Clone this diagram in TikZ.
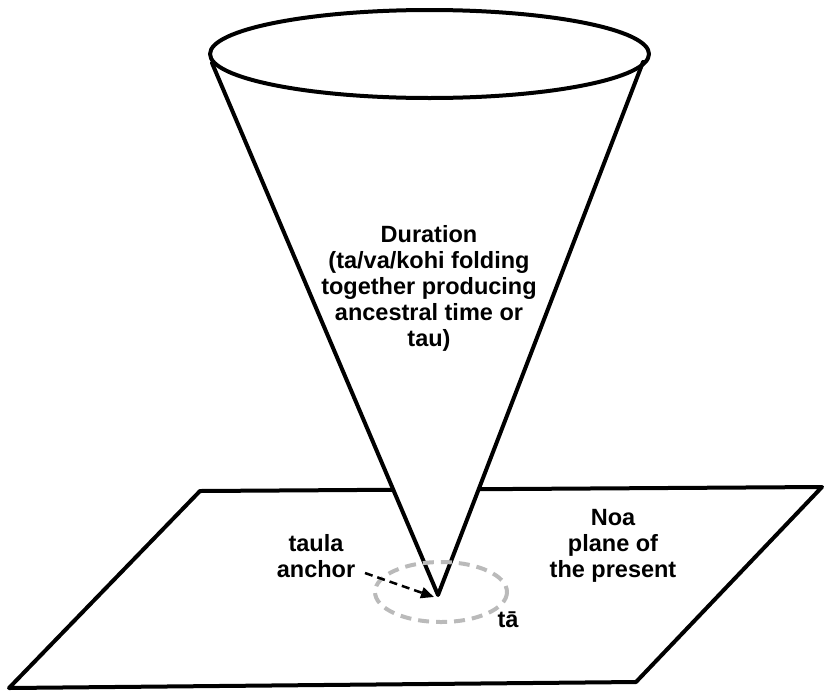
\documentclass[tikz,border=0pt]{standalone}
\usepackage{fontspec}
\setmainfont{Liberation Sans}
\usetikzlibrary{arrows.meta}
\tikzset{
  edge/.style={line width=4pt, line join=round, line cap=round},
  lbl/.style={inner sep=0pt, align=center, font=\bfseries\fontsize{23.5}{26}\selectfont},
  halo/.style={draw=black!27, line width=4pt, dash pattern=on 11pt off 7pt},
  pointer/.style={line width=2.5pt, dash pattern=on 8pt off 5pt, -{Triangle[length=13pt,width=11pt]}}
}
\begin{document}
\begin{tikzpicture}[x=1pt,y=-1pt]
\useasboundingbox (0,0) rectangle (826,691);
% plane
\coordinate (ptl) at (200,491);
\coordinate (ptr) at (822,487);
\coordinate (pbr) at (636,682);
\coordinate (pbl) at (9,688);
\draw[edge] (ptl) -- (ptr) -- (pbr) -- (pbl) -- cycle;
% cone
\coordinate (apex) at (438,595);
\coordinate (cl) at (212,63);
\coordinate (cr) at (643,62);
\fill[white] (cl) -- (apex) -- (cr) -- cycle;
\fill[white] (429.5,54) ellipse [x radius=219.5, y radius=44];
\draw[edge] (cl) -- (apex) -- (cr);
\draw[edge] (429.5,54) ellipse [x radius=219.5, y radius=44];
% dashed circle ta
\draw[halo] (441,592) ellipse [x radius=66, y radius=30];
% labels
\node[lbl, anchor=base] (dur) at (429,346) {Duration\\(ta/va/kohi folding\\together producing\\ancestral time or\\tau)};
\node[lbl, anchor=base] (noa) at (613,577) {Noa\\plane of\\the present};
\node[lbl, anchor=base] (taula) at (316,577) {taula\\anchor};
\node[lbl, anchor=base] (ta) at (508,627) {tā};
% arrow
\coordinate (arrS) at (365,573);
\coordinate (arrE) at (434,597);
\draw[pointer] (arrS) -- (arrE);
\end{tikzpicture}
\end{document}
